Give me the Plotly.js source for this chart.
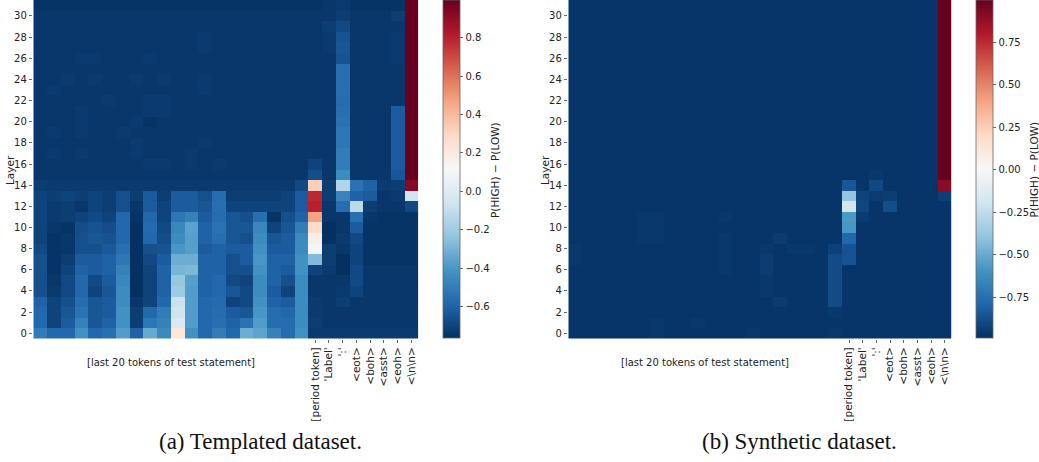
<!DOCTYPE html>
<html>
<head>
<meta charset="utf-8">
<script src="https://cdn.plot.ly/plotly-3.0.1.min.js"></script>
<style>html,body{margin:0;padding:0;background:#fff;}#chart{width:1039px;height:462px;}</style>
</head>
<body>
<div id="chart"></div>
<script>
// ---- data ----
const layers = [0,1,2,3,4,5,6,7,8,9,10,11,12,13,14,15,16,17,18,19,20,21,22,23,24,25,26,27,28,29,30,31];
const positions = [0,1,2,3,4,5,6,7,8,9,10,11,12,13,14,15,16,17,18,19,20,21,22,23,24,25,26,27];
const tokenTickPos = [20,21,22,23,24,25,26,27];
const tokenLabels = ["[period token]", "'Label'", "':'", "<eot>", "<boh>", "<asst>", "<eoh>", "<\\n\\n>"];
const layerTicks = [0,2,4,6,8,10,12,14,16,18,20,22,24,26,28,30];
const statementLabel = "[last 20 tokens of test statement]";
const captionA = "(a) Templated dataset.";
const captionB = "(b) Synthetic dataset.";
const cbTitle = "P(HIGH) \u2212 P(LOW)";
const cbTicksA = [-0.6,-0.4,-0.2,0,0.2,0.4,0.6,0.8];
const cbTextA = ["\u22120.6","\u22120.4","\u22120.2","0.0","0.2","0.4","0.6","0.8"];
const cbTicksB = [-0.75,-0.5,-0.25,0,0.25,0.5,0.75];
const cbTextB = ["\u22120.75","\u22120.50","\u22120.25","0.00","0.25","0.50","0.75"];
const rangeA = [-0.763, 0.996];
const rangeB = [-0.99, 1.0];

// templated dataset: one row per layer (0..31), 28 token positions
const templated = [
 [-0.50,-0.58,-0.58,-0.42,-0.58,-0.55,-0.38,-0.60,-0.33,-0.45, 0.22,-0.42,-0.58,-0.50,-0.58,-0.32,-0.35,-0.48,-0.56,-0.42,-0.73,-0.73,-0.73,-0.73,-0.73,-0.73,-0.73,-0.73],
 [-0.58,-0.70,-0.62,-0.48,-0.64,-0.60,-0.42,-0.72,-0.52,-0.48,-0.02,-0.38,-0.58,-0.55,-0.60,-0.54,-0.38,-0.56,-0.56,-0.44,-0.72,-0.74,-0.74,-0.74,-0.74,-0.74,-0.74,-0.74],
 [-0.58,-0.70,-0.64,-0.54,-0.64,-0.62,-0.42,-0.72,-0.58,-0.50,-0.06,-0.38,-0.58,-0.56,-0.62,-0.64,-0.40,-0.56,-0.58,-0.44,-0.73,-0.74,-0.74,-0.74,-0.74,-0.74,-0.74,-0.74],
 [-0.60,-0.70,-0.66,-0.56,-0.64,-0.62,-0.44,-0.74,-0.70,-0.58,-0.08,-0.38,-0.58,-0.57,-0.70,-0.68,-0.42,-0.60,-0.62,-0.44,-0.73,-0.74,-0.72,-0.74,-0.74,-0.74,-0.74,-0.74],
 [-0.66,-0.73,-0.68,-0.58,-0.70,-0.64,-0.44,-0.76,-0.70,-0.60,-0.20,-0.38,-0.60,-0.58,-0.64,-0.68,-0.44,-0.62,-0.70,-0.44,-0.74,-0.74,-0.73,-0.70,-0.74,-0.74,-0.74,-0.74],
 [-0.66,-0.74,-0.68,-0.58,-0.68,-0.62,-0.46,-0.76,-0.70,-0.60,-0.22,-0.37,-0.60,-0.58,-0.68,-0.70,-0.44,-0.60,-0.66,-0.44,-0.74,-0.74,-0.74,-0.68,-0.74,-0.74,-0.74,-0.74],
 [-0.66,-0.75,-0.70,-0.60,-0.62,-0.60,-0.48,-0.76,-0.70,-0.60,-0.29,-0.28,-0.60,-0.60,-0.66,-0.66,-0.42,-0.60,-0.62,-0.42,-0.70,-0.73,-0.76,-0.68,-0.74,-0.74,-0.74,-0.74],
 [-0.66,-0.75,-0.72,-0.62,-0.62,-0.60,-0.52,-0.76,-0.68,-0.62,-0.32,-0.32,-0.60,-0.60,-0.66,-0.62,-0.40,-0.60,-0.60,-0.42,-0.27,-0.72,-0.76,-0.70,-0.75,-0.75,-0.75,-0.75],
 [-0.68,-0.75,-0.74,-0.66,-0.66,-0.63,-0.55,-0.76,-0.66,-0.65,-0.40,-0.37,-0.62,-0.60,-0.62,-0.62,-0.42,-0.62,-0.62,-0.44, 0.10,-0.72,-0.74,-0.70,-0.75,-0.75,-0.75,-0.75],
 [-0.70,-0.75,-0.74,-0.66,-0.64,-0.65,-0.58,-0.76,-0.58,-0.67,-0.44,-0.37,-0.60,-0.55,-0.64,-0.66,-0.44,-0.64,-0.62,-0.45, 0.17,-0.76,-0.73,-0.68,-0.75,-0.75,-0.75,-0.75],
 [-0.70,-0.74,-0.75,-0.67,-0.65,-0.67,-0.58,-0.76,-0.57,-0.68,-0.46,-0.36,-0.60,-0.54,-0.64,-0.64,-0.46,-0.70,-0.64,-0.50, 0.28,-0.76,-0.74,-0.62,-0.75,-0.75,-0.75,-0.75],
 [-0.70,-0.73,-0.72,-0.70,-0.68,-0.70,-0.58,-0.75,-0.58,-0.70,-0.52,-0.48,-0.62,-0.56,-0.64,-0.66,-0.55,-0.75,-0.66,-0.60, 0.47,-0.74,-0.74,-0.55,-0.74,-0.75,-0.75,-0.75],
 [-0.70,-0.73,-0.72,-0.74,-0.70,-0.72,-0.66,-0.74,-0.62,-0.70,-0.62,-0.62,-0.64,-0.55,-0.70,-0.70,-0.70,-0.70,-0.70,-0.62, 0.80,-0.74,-0.56,-0.12,-0.72,-0.74,-0.74,-0.68],
 [-0.70,-0.72,-0.70,-0.72,-0.70,-0.72,-0.66,-0.72,-0.63,-0.72,-0.62,-0.62,-0.66,-0.56,-0.72,-0.72,-0.72,-0.72,-0.70,-0.62, 0.78,-0.72,-0.47,-0.60,-0.62,-0.74,-0.73,-0.05],
 [-0.72,-0.73,-0.73,-0.73,-0.73,-0.73,-0.73,-0.73,-0.73,-0.73,-0.73,-0.73,-0.73,-0.73,-0.73,-0.73,-0.73,-0.73,-0.73,-0.68, 0.33,-0.72,-0.15,-0.54,-0.60,-0.73,-0.72, 0.92],
 [-0.74,-0.74,-0.74,-0.74,-0.74,-0.74,-0.74,-0.74,-0.74,-0.74,-0.74,-0.74,-0.74,-0.74,-0.74,-0.74,-0.74,-0.74,-0.74,-0.74,-0.67,-0.74,-0.44,-0.74,-0.74,-0.74,-0.64, 1.00],
 [-0.74,-0.74,-0.74,-0.74,-0.74,-0.74,-0.74,-0.74,-0.73,-0.73,-0.74,-0.73,-0.74,-0.73,-0.74,-0.74,-0.74,-0.74,-0.74,-0.74,-0.70,-0.74,-0.50,-0.74,-0.74,-0.74,-0.62, 1.00],
 [-0.74,-0.73,-0.74,-0.73,-0.74,-0.74,-0.74,-0.73,-0.74,-0.74,-0.74,-0.73,-0.74,-0.74,-0.74,-0.74,-0.74,-0.74,-0.74,-0.74,-0.74,-0.74,-0.50,-0.74,-0.74,-0.74,-0.62, 1.00],
 [-0.74,-0.74,-0.74,-0.74,-0.74,-0.74,-0.74,-0.73,-0.74,-0.74,-0.74,-0.74,-0.73,-0.74,-0.74,-0.74,-0.74,-0.74,-0.74,-0.74,-0.74,-0.74,-0.52,-0.74,-0.74,-0.74,-0.62, 1.00],
 [-0.74,-0.73,-0.74,-0.73,-0.74,-0.74,-0.73,-0.74,-0.74,-0.74,-0.74,-0.74,-0.74,-0.74,-0.74,-0.74,-0.74,-0.74,-0.74,-0.74,-0.74,-0.74,-0.52,-0.74,-0.74,-0.74,-0.62, 1.00],
 [-0.74,-0.74,-0.74,-0.73,-0.74,-0.74,-0.74,-0.73,-0.75,-0.74,-0.74,-0.74,-0.74,-0.74,-0.74,-0.74,-0.74,-0.74,-0.74,-0.74,-0.74,-0.74,-0.54,-0.74,-0.74,-0.74,-0.62, 1.00],
 [-0.74,-0.74,-0.74,-0.73,-0.74,-0.74,-0.74,-0.74,-0.73,-0.73,-0.74,-0.74,-0.74,-0.74,-0.74,-0.74,-0.74,-0.74,-0.74,-0.74,-0.74,-0.74,-0.55,-0.74,-0.74,-0.74,-0.62, 1.00],
 [-0.74,-0.74,-0.74,-0.74,-0.74,-0.73,-0.74,-0.74,-0.73,-0.73,-0.74,-0.74,-0.74,-0.74,-0.74,-0.74,-0.74,-0.74,-0.74,-0.74,-0.74,-0.74,-0.56,-0.74,-0.74,-0.74,-0.74, 1.00],
 [-0.74,-0.73,-0.74,-0.74,-0.74,-0.74,-0.74,-0.74,-0.74,-0.74,-0.74,-0.74,-0.73,-0.74,-0.74,-0.74,-0.74,-0.74,-0.74,-0.74,-0.74,-0.74,-0.55,-0.74,-0.74,-0.74,-0.74, 1.00],
 [-0.74,-0.74,-0.73,-0.74,-0.73,-0.74,-0.74,-0.73,-0.74,-0.73,-0.74,-0.74,-0.73,-0.74,-0.74,-0.74,-0.74,-0.74,-0.74,-0.74,-0.74,-0.74,-0.55,-0.74,-0.74,-0.74,-0.74, 1.00],
 [-0.74,-0.74,-0.74,-0.74,-0.74,-0.74,-0.74,-0.74,-0.74,-0.74,-0.74,-0.74,-0.74,-0.74,-0.74,-0.74,-0.74,-0.74,-0.74,-0.74,-0.74,-0.74,-0.55,-0.74,-0.74,-0.74,-0.74, 1.00],
 [-0.74,-0.74,-0.74,-0.73,-0.73,-0.74,-0.74,-0.74,-0.73,-0.74,-0.74,-0.74,-0.74,-0.74,-0.74,-0.74,-0.74,-0.74,-0.74,-0.74,-0.74,-0.74,-0.65,-0.74,-0.74,-0.74,-0.73, 1.00],
 [-0.74,-0.74,-0.74,-0.74,-0.74,-0.74,-0.74,-0.74,-0.74,-0.74,-0.74,-0.74,-0.73,-0.74,-0.74,-0.74,-0.74,-0.74,-0.74,-0.74,-0.74,-0.73,-0.64,-0.74,-0.74,-0.74,-0.73, 1.00],
 [-0.74,-0.74,-0.74,-0.74,-0.74,-0.74,-0.74,-0.74,-0.74,-0.74,-0.74,-0.74,-0.73,-0.74,-0.74,-0.74,-0.74,-0.74,-0.74,-0.74,-0.74,-0.73,-0.65,-0.74,-0.74,-0.74,-0.73, 1.00],
 [-0.74,-0.74,-0.74,-0.74,-0.74,-0.74,-0.74,-0.74,-0.74,-0.74,-0.74,-0.74,-0.74,-0.74,-0.74,-0.74,-0.74,-0.74,-0.74,-0.74,-0.74,-0.72,-0.68,-0.74,-0.74,-0.74,-0.74, 1.00],
 [-0.74,-0.74,-0.74,-0.74,-0.74,-0.74,-0.74,-0.74,-0.74,-0.74,-0.74,-0.74,-0.74,-0.74,-0.74,-0.74,-0.74,-0.74,-0.74,-0.74,-0.74,-0.74,-0.72,-0.74,-0.74,-0.74,-0.72, 1.00],
 [-0.75,-0.75,-0.75,-0.75,-0.75,-0.75,-0.75,-0.75,-0.75,-0.75,-0.75,-0.75,-0.75,-0.75,-0.75,-0.75,-0.75,-0.75,-0.75,-0.75,-0.75,-0.74,-0.73,-0.75,-0.75,-0.75,-0.75, 1.00]
];

// synthetic dataset: one row per layer (0..31), 28 token positions
const synthetic = [
 [-0.97,-0.97,-0.97,-0.97,-0.97,-0.97,-0.96,-0.97,-0.97,-0.97,-0.97,-0.97,-0.97,-0.96,-0.97,-0.97,-0.97,-0.97,-0.97,-0.96,-0.97,-0.97,-0.97,-0.97,-0.97,-0.97,-0.97,-0.97],
 [-0.97,-0.97,-0.97,-0.97,-0.97,-0.97,-0.96,-0.97,-0.97,-0.96,-0.97,-0.97,-0.97,-0.97,-0.97,-0.97,-0.97,-0.97,-0.97,-0.97,-0.97,-0.97,-0.97,-0.97,-0.97,-0.97,-0.97,-0.97],
 [-0.97,-0.97,-0.97,-0.97,-0.97,-0.97,-0.97,-0.97,-0.97,-0.97,-0.97,-0.97,-0.97,-0.97,-0.97,-0.97,-0.97,-0.97,-0.97,-0.96,-0.97,-0.97,-0.97,-0.97,-0.97,-0.97,-0.97,-0.97],
 [-0.97,-0.97,-0.97,-0.97,-0.97,-0.97,-0.97,-0.97,-0.97,-0.97,-0.97,-0.97,-0.97,-0.97,-0.97,-0.95,-0.97,-0.97,-0.97,-0.89,-0.97,-0.97,-0.97,-0.97,-0.97,-0.97,-0.97,-0.97],
 [-0.97,-0.97,-0.97,-0.97,-0.97,-0.97,-0.97,-0.97,-0.97,-0.97,-0.97,-0.97,-0.97,-0.97,-0.96,-0.97,-0.97,-0.97,-0.97,-0.89,-0.97,-0.97,-0.97,-0.97,-0.97,-0.97,-0.97,-0.97],
 [-0.97,-0.97,-0.97,-0.97,-0.97,-0.97,-0.97,-0.97,-0.97,-0.97,-0.97,-0.97,-0.97,-0.97,-0.96,-0.97,-0.97,-0.97,-0.97,-0.89,-0.97,-0.97,-0.97,-0.97,-0.97,-0.97,-0.97,-0.97],
 [-0.97,-0.97,-0.97,-0.97,-0.97,-0.97,-0.97,-0.97,-0.97,-0.97,-0.97,-0.96,-0.97,-0.97,-0.95,-0.97,-0.97,-0.97,-0.97,-0.89,-0.97,-0.97,-0.97,-0.97,-0.97,-0.97,-0.97,-0.97],
 [-0.96,-0.97,-0.97,-0.97,-0.97,-0.97,-0.97,-0.97,-0.97,-0.97,-0.97,-0.96,-0.97,-0.97,-0.95,-0.97,-0.97,-0.97,-0.97,-0.89,-0.86,-0.97,-0.97,-0.97,-0.97,-0.97,-0.97,-0.97],
 [-0.96,-0.97,-0.97,-0.97,-0.97,-0.97,-0.97,-0.97,-0.97,-0.97,-0.97,-0.96,-0.97,-0.97,-0.96,-0.97,-0.96,-0.96,-0.97,-0.93,-0.86,-0.97,-0.97,-0.97,-0.97,-0.97,-0.97,-0.97],
 [-0.97,-0.97,-0.97,-0.97,-0.97,-0.96,-0.96,-0.97,-0.97,-0.97,-0.97,-0.96,-0.97,-0.97,-0.97,-0.95,-0.97,-0.97,-0.97,-0.97,-0.78,-0.97,-0.97,-0.97,-0.97,-0.97,-0.97,-0.97],
 [-0.97,-0.97,-0.97,-0.97,-0.97,-0.96,-0.96,-0.97,-0.97,-0.97,-0.97,-0.97,-0.97,-0.97,-0.97,-0.97,-0.97,-0.97,-0.97,-0.97,-0.58,-0.97,-0.97,-0.97,-0.97,-0.97,-0.97,-0.97],
 [-0.97,-0.97,-0.97,-0.97,-0.97,-0.96,-0.96,-0.97,-0.97,-0.97,-0.97,-0.96,-0.97,-0.97,-0.97,-0.97,-0.97,-0.97,-0.97,-0.97,-0.57,-0.95,-0.97,-0.97,-0.97,-0.97,-0.97,-0.97],
 [-0.97,-0.97,-0.97,-0.97,-0.97,-0.97,-0.97,-0.97,-0.97,-0.97,-0.97,-0.97,-0.97,-0.97,-0.97,-0.97,-0.97,-0.97,-0.97,-0.97,-0.19,-0.91,-0.97,-0.88,-0.97,-0.97,-0.97,-0.97],
 [-0.97,-0.97,-0.97,-0.97,-0.97,-0.97,-0.97,-0.97,-0.97,-0.97,-0.97,-0.97,-0.97,-0.97,-0.97,-0.97,-0.97,-0.97,-0.97,-0.97,-0.39,-0.92,-0.95,-0.94,-0.97,-0.97,-0.97,-0.93],
 [-0.97,-0.97,-0.97,-0.97,-0.97,-0.97,-0.97,-0.97,-0.97,-0.97,-0.97,-0.97,-0.97,-0.97,-0.97,-0.97,-0.97,-0.97,-0.97,-0.97,-0.85,-0.97,-0.90,-0.97,-0.97,-0.97,-0.97, 0.90],
 [-0.97,-0.97,-0.97,-0.97,-0.97,-0.97,-0.97,-0.97,-0.97,-0.97,-0.97,-0.97,-0.97,-0.97,-0.97,-0.97,-0.97,-0.97,-0.97,-0.97,-0.97,-0.97,-0.96,-0.97,-0.97,-0.97,-0.97, 1.00],
 [-0.97,-0.97,-0.97,-0.97,-0.97,-0.97,-0.97,-0.97,-0.97,-0.97,-0.97,-0.97,-0.97,-0.97,-0.97,-0.97,-0.97,-0.97,-0.97,-0.97,-0.97,-0.97,-0.97,-0.97,-0.97,-0.97,-0.97, 1.00],
 [-0.97,-0.97,-0.97,-0.97,-0.97,-0.97,-0.97,-0.97,-0.97,-0.97,-0.97,-0.97,-0.97,-0.97,-0.97,-0.97,-0.97,-0.97,-0.97,-0.97,-0.97,-0.97,-0.97,-0.97,-0.97,-0.97,-0.97, 1.00],
 [-0.97,-0.97,-0.97,-0.97,-0.97,-0.97,-0.97,-0.97,-0.97,-0.97,-0.97,-0.97,-0.97,-0.97,-0.97,-0.97,-0.97,-0.97,-0.97,-0.97,-0.97,-0.97,-0.97,-0.97,-0.97,-0.97,-0.97, 1.00],
 [-0.97,-0.97,-0.97,-0.97,-0.97,-0.97,-0.97,-0.97,-0.97,-0.97,-0.97,-0.97,-0.97,-0.97,-0.97,-0.97,-0.97,-0.97,-0.97,-0.97,-0.97,-0.97,-0.97,-0.97,-0.97,-0.97,-0.97, 1.00],
 [-0.97,-0.97,-0.97,-0.97,-0.97,-0.97,-0.97,-0.97,-0.97,-0.97,-0.97,-0.97,-0.97,-0.97,-0.97,-0.97,-0.97,-0.97,-0.97,-0.97,-0.97,-0.97,-0.97,-0.97,-0.97,-0.97,-0.97, 1.00],
 [-0.97,-0.97,-0.97,-0.97,-0.97,-0.97,-0.97,-0.97,-0.97,-0.97,-0.97,-0.97,-0.97,-0.97,-0.97,-0.97,-0.97,-0.97,-0.97,-0.97,-0.97,-0.97,-0.97,-0.97,-0.97,-0.97,-0.97, 1.00],
 [-0.97,-0.97,-0.97,-0.97,-0.97,-0.97,-0.97,-0.97,-0.97,-0.97,-0.97,-0.97,-0.97,-0.97,-0.97,-0.97,-0.97,-0.97,-0.97,-0.97,-0.97,-0.97,-0.97,-0.97,-0.97,-0.97,-0.97, 1.00],
 [-0.97,-0.97,-0.97,-0.97,-0.97,-0.97,-0.97,-0.97,-0.97,-0.97,-0.97,-0.97,-0.97,-0.97,-0.97,-0.97,-0.97,-0.97,-0.97,-0.97,-0.97,-0.97,-0.97,-0.97,-0.97,-0.97,-0.97, 1.00],
 [-0.97,-0.97,-0.97,-0.97,-0.97,-0.97,-0.97,-0.97,-0.97,-0.97,-0.97,-0.97,-0.97,-0.97,-0.97,-0.97,-0.97,-0.97,-0.97,-0.97,-0.97,-0.97,-0.97,-0.97,-0.97,-0.97,-0.97, 1.00],
 [-0.97,-0.97,-0.97,-0.97,-0.97,-0.97,-0.97,-0.97,-0.97,-0.97,-0.97,-0.97,-0.97,-0.97,-0.97,-0.97,-0.97,-0.97,-0.97,-0.97,-0.97,-0.97,-0.97,-0.97,-0.97,-0.97,-0.97, 1.00],
 [-0.97,-0.97,-0.97,-0.97,-0.97,-0.97,-0.97,-0.97,-0.97,-0.97,-0.97,-0.97,-0.97,-0.97,-0.97,-0.97,-0.97,-0.97,-0.97,-0.97,-0.97,-0.97,-0.97,-0.97,-0.97,-0.97,-0.97, 1.00],
 [-0.97,-0.97,-0.97,-0.97,-0.97,-0.97,-0.97,-0.97,-0.97,-0.97,-0.97,-0.97,-0.97,-0.97,-0.97,-0.97,-0.97,-0.97,-0.97,-0.97,-0.97,-0.97,-0.97,-0.97,-0.97,-0.97,-0.97, 1.00],
 [-0.97,-0.97,-0.97,-0.97,-0.97,-0.97,-0.97,-0.97,-0.97,-0.97,-0.97,-0.97,-0.97,-0.97,-0.97,-0.97,-0.97,-0.97,-0.97,-0.97,-0.97,-0.97,-0.97,-0.97,-0.97,-0.97,-0.97, 1.00],
 [-0.97,-0.97,-0.97,-0.97,-0.97,-0.97,-0.97,-0.97,-0.97,-0.97,-0.97,-0.97,-0.97,-0.97,-0.97,-0.97,-0.97,-0.97,-0.97,-0.97,-0.97,-0.97,-0.97,-0.97,-0.97,-0.97,-0.97, 1.00],
 [-0.97,-0.97,-0.97,-0.97,-0.97,-0.97,-0.97,-0.97,-0.97,-0.97,-0.97,-0.97,-0.97,-0.97,-0.97,-0.97,-0.97,-0.97,-0.97,-0.97,-0.97,-0.97,-0.97,-0.97,-0.97,-0.97,-0.97, 1.00],
 [-0.97,-0.97,-0.97,-0.97,-0.97,-0.97,-0.97,-0.97,-0.97,-0.97,-0.97,-0.97,-0.97,-0.97,-0.97,-0.97,-0.97,-0.97,-0.97,-0.97,-0.97,-0.97,-0.97,-0.97,-0.97,-0.97,-0.97, 1.00]
];

// ---- style ----
const RdBu_r = [
 [0.0,'#053061'],[0.1,'#2166ac'],[0.2,'#4393c3'],[0.3,'#92c5de'],[0.4,'#d1e5f0'],
 [0.5,'#f7f7f7'],[0.6,'#fddbc7'],[0.7,'#f4a582'],[0.8,'#d6604d'],[0.9,'#b2182b'],[1.0,'#67001f']
];
const W = 1039, H = 462;
const FONT = 'DejaVu Sans';
const txt = '#222';
const plotTop = 0, plotBottom = 338.6;
const yDom = [1 - plotBottom / H, 1 - plotTop / H];

function xAxis(domain, anchor) {
  return {
    domain: domain, anchor: anchor, range: [-0.5, 27.5],
    tickmode: 'array', tickvals: tokenTickPos, ticktext: tokenLabels,
    tickangle: -90, ticks: 'outside', ticklen: 3.5, tickwidth: 0.8, tickcolor: '#444',
    tickfont: {family: FONT, size: 10.5, color: txt},
    showgrid: false, zeroline: false, showline: false, fixedrange: true
  };
}
function yAxis(anchor) {
  return {
    domain: yDom, anchor: anchor, range: [-0.5, 31.5],
    tickmode: 'array', tickvals: layerTicks, ticktext: layerTicks.map(String),
    ticks: 'outside', ticklen: 3.5, tickwidth: 0.8, tickcolor: '#444',
    tickfont: {family: FONT, size: 10, color: txt},
    showgrid: false, zeroline: false, showline: false, fixedrange: true
  };
}
function colorbar(xpx, vals, text) {
  return {
    x: xpx / W, xanchor: 'left', xref: 'paper', xpad: 0,
    y: 1, yanchor: 'top', yref: 'paper', ypad: 0,
    len: 338 / H, lenmode: 'fraction', thickness: 16.6,
    outlinewidth: 0.8, outlinecolor: '#666',
    tickmode: 'array', tickvals: vals, ticktext: text,
    ticks: 'outside', ticklen: 3.5, tickwidth: 0.8, tickcolor: '#444',
    tickfont: {family: FONT, size: 10, color: txt}
  };
}

const data = [
  {type: 'heatmap', x: positions, y: layers, z: templated, coloraxis: 'coloraxis',
   xaxis: 'x', yaxis: 'y', hoverinfo: 'skip', xgap: 0, ygap: 0},
  {type: 'heatmap', x: positions, y: layers, z: synthetic, coloraxis: 'coloraxis2',
   xaxis: 'x2', yaxis: 'y2', hoverinfo: 'skip', xgap: 0, ygap: 0}
];

const annotations = [
  {text: statementLabel, xref: 'x', yref: 'paper', x: 9.5, y: 1 - 362 / H, showarrow: false,
   xanchor: 'center', yanchor: 'middle', font: {family: FONT, size: 10, color: txt}},
  {text: statementLabel, xref: 'x2', yref: 'paper', x: 9.5, y: 1 - 362 / H, showarrow: false,
   xanchor: 'center', yanchor: 'middle', font: {family: FONT, size: 10, color: txt}},
  {text: 'Layer', xref: 'paper', yref: 'paper', x: 10 / W, y: 1 - 170 / H, showarrow: false,
   textangle: -90, xanchor: 'center', yanchor: 'middle', font: {family: FONT, size: 10.5, color: txt}},
  {text: 'Layer', xref: 'paper', yref: 'paper', x: 545 / W, y: 1 - 170 / H, showarrow: false,
   textangle: -90, xanchor: 'center', yanchor: 'middle', font: {family: FONT, size: 10.5, color: txt}},
  {text: cbTitle, xref: 'paper', yref: 'paper', x: 495 / W, y: 1 - 170 / H, showarrow: false,
   textangle: -90, xanchor: 'center', yanchor: 'middle', font: {family: FONT, size: 10.5, color: txt}},
  {text: cbTitle, xref: 'paper', yref: 'paper', x: 1033.5 / W, y: 1 - 170 / H, showarrow: false,
   textangle: -90, xanchor: 'center', yanchor: 'middle', font: {family: FONT, size: 10.5, color: txt}},
  {text: captionA, xref: 'paper', yref: 'paper', x: 260.5 / W, y: 1 - 441 / H, showarrow: false,
   xanchor: 'center', yanchor: 'middle', font: {family: 'Liberation Serif', size: 23, color: '#111'}},
  {text: captionB, xref: 'paper', yref: 'paper', x: 799 / W, y: 1 - 441 / H, showarrow: false,
   xanchor: 'center', yanchor: 'middle', font: {family: 'Liberation Serif', size: 23, color: '#111'}}
];

const layout = {
  width: W, height: H,
  margin: {l: 0, r: 0, t: 0, b: 0, pad: 0},
  paper_bgcolor: '#fff', plot_bgcolor: '#fff',
  showlegend: false,
  font: {family: FONT, size: 10, color: txt},
  xaxis: xAxis([33.3 / W, 418.3 / W], 'y'),
  yaxis: yAxis('x'),
  xaxis2: xAxis([568.3 / W, 951.7 / W], 'y2'),
  yaxis2: yAxis('x2'),
  coloraxis: {colorscale: RdBu_r, cmin: rangeA[0], cmax: rangeA[1],
              colorbar: colorbar(442.7, cbTicksA, cbTextA)},
  coloraxis2: {colorscale: RdBu_r, cmin: rangeB[0], cmax: rangeB[1],
               colorbar: colorbar(975.7, cbTicksB, cbTextB)},
  annotations: annotations
};

Plotly.newPlot('chart', data, layout, {staticPlot: true, displayModeBar: false});
</script>
</body>
</html>
